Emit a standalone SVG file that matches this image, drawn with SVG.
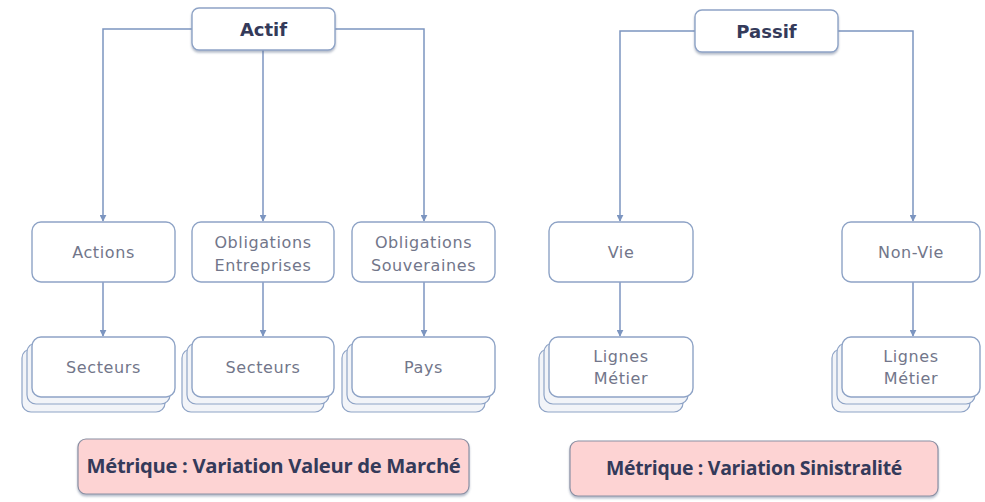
<svg xmlns="http://www.w3.org/2000/svg" width="985" height="502" viewBox="0 0 985 502">
<defs>
<marker id="ah" viewBox="0 0 10 10" refX="9" refY="5" markerWidth="7" markerHeight="7" orient="auto" markerUnits="userSpaceOnUse">
<path d="M0,0 L10,5 L0,10 z" fill="#7c95c0"/>
</marker>
<filter id="sh" x="-10%" y="-10%" width="120%" height="140%">
<feDropShadow dx="0" dy="2" stdDeviation="1.2" flood-color="#5a6a8a" flood-opacity="0.45"/>
</filter>
</defs>
<style>
.box{fill:#ffffff;stroke:#8ea3c6;stroke-width:1.4}
.back{fill:#f2f4f8;stroke:#8ea3c6;stroke-width:1.2}
.pink{fill:#fdd3d3;stroke:#8a8fa3;stroke-width:1.2}
.ttl{font-family:"DejaVu Sans",sans-serif;font-weight:bold;font-size:18px;fill:#343a5a;text-anchor:middle}
.lbl{font-family:"DejaVu Sans",sans-serif;font-size:16px;fill:#72768a;text-anchor:middle;letter-spacing:0.6px}
.met{font-family:"Open Sans",sans-serif;font-weight:bold;font-size:19px;fill:#343a5a;text-anchor:middle;letter-spacing:-0.3px}
.ln{fill:none;stroke:#7c95c0;stroke-width:1.5}
</style>
<rect width="985" height="502" fill="#ffffff"/>

<g id="connectors">
<path class="ln" d="M192,29 H103 V221" marker-end="url(#ah)"/>
<path class="ln" d="M263,50 V221" marker-end="url(#ah)"/>
<path class="ln" d="M335,29 H424 V221" marker-end="url(#ah)"/>
<path class="ln" d="M103,282 V336" marker-end="url(#ah)"/>
<path class="ln" d="M263,282 V336" marker-end="url(#ah)"/>
<path class="ln" d="M424,282 V336" marker-end="url(#ah)"/>
<path class="ln" d="M695,31 H620 V221" marker-end="url(#ah)"/>
<path class="ln" d="M838,31 H913 V221" marker-end="url(#ah)"/>
<path class="ln" d="M620,282 V336" marker-end="url(#ah)"/>
<path class="ln" d="M913,282 V336" marker-end="url(#ah)"/>
</g>

<g id="actif">
<rect class="box" x="192" y="8" width="143" height="42" rx="7" filter="url(#sh)"/>
<text class="ttl" x="263.5" y="36">Actif</text>
</g>
<g id="passif">
<rect class="box" x="695" y="10" width="143" height="42" rx="7" filter="url(#sh)"/>
<text class="ttl" x="766.5" y="38">Passif</text>
</g>

<g id="actions">
<rect class="box" x="32" y="222" width="143" height="60" rx="9"/>
<text class="lbl" x="103.5" y="258">Actions</text>
</g>
<g id="oblig-entreprises">
<rect class="box" x="192" y="222" width="142" height="60" rx="9"/>
<text class="lbl" x="263" y="248">Obligations</text>
<text class="lbl" x="263" y="271">Entreprises</text>
</g>
<g id="oblig-souveraines">
<rect class="box" x="352" y="222" width="143" height="60" rx="9"/>
<text class="lbl" x="423.5" y="248">Obligations</text>
<text class="lbl" x="423.5" y="271">Souveraines</text>
</g>
<g id="vie">
<rect class="box" x="549" y="222" width="144" height="60" rx="9"/>
<text class="lbl" x="621" y="258">Vie</text>
</g>
<g id="non-vie">
<rect class="box" x="842" y="222" width="138" height="60" rx="9"/>
<text class="lbl" x="911" y="258">Non-Vie</text>
</g>

<g id="secteurs-1">
<rect class="back" x="22" y="349" width="143" height="63" rx="9"/>
<rect class="back" x="27" y="343" width="143" height="61" rx="9"/>
<rect class="box" x="32" y="337" width="143" height="60" rx="9"/>
<text class="lbl" x="103.5" y="373">Secteurs</text>
</g>
<g id="secteurs-2">
<rect class="back" x="182" y="349" width="142" height="63" rx="9"/>
<rect class="back" x="187" y="343" width="142" height="61" rx="9"/>
<rect class="box" x="192" y="337" width="142" height="60" rx="9"/>
<text class="lbl" x="263" y="373">Secteurs</text>
</g>
<g id="pays">
<rect class="back" x="342" y="349" width="143" height="63" rx="9"/>
<rect class="back" x="347" y="343" width="143" height="61" rx="9"/>
<rect class="box" x="352" y="337" width="143" height="60" rx="9"/>
<text class="lbl" x="423.5" y="373">Pays</text>
</g>
<g id="lignes-vie">
<rect class="back" x="539" y="349" width="144" height="63" rx="9"/>
<rect class="back" x="544" y="343" width="144" height="61" rx="9"/>
<rect class="box" x="549" y="337" width="144" height="60" rx="9"/>
<text class="lbl" x="621" y="362">Lignes</text>
<text class="lbl" x="621" y="384">Métier</text>
</g>
<g id="lignes-nonvie">
<rect class="back" x="832" y="349" width="138" height="63" rx="9"/>
<rect class="back" x="837" y="343" width="138" height="61" rx="9"/>
<rect class="box" x="842" y="337" width="138" height="60" rx="9"/>
<text class="lbl" x="911" y="362">Lignes</text>
<text class="lbl" x="911" y="384">Métier</text>
</g>

<g id="metrique-actif">
<rect class="pink" x="78" y="439" width="391" height="55" rx="8" filter="url(#sh)"/>
<text class="met" x="273.5" y="473" textLength="374" lengthAdjust="spacingAndGlyphs">Métrique : Variation Valeur de Marché</text>
</g>
<g id="metrique-passif">
<rect class="pink" x="570" y="441" width="368" height="55" rx="8" filter="url(#sh)"/>
<text class="met" x="754" y="475" textLength="296" lengthAdjust="spacingAndGlyphs">Métrique : Variation Sinistralité</text>
</g>
</svg>
